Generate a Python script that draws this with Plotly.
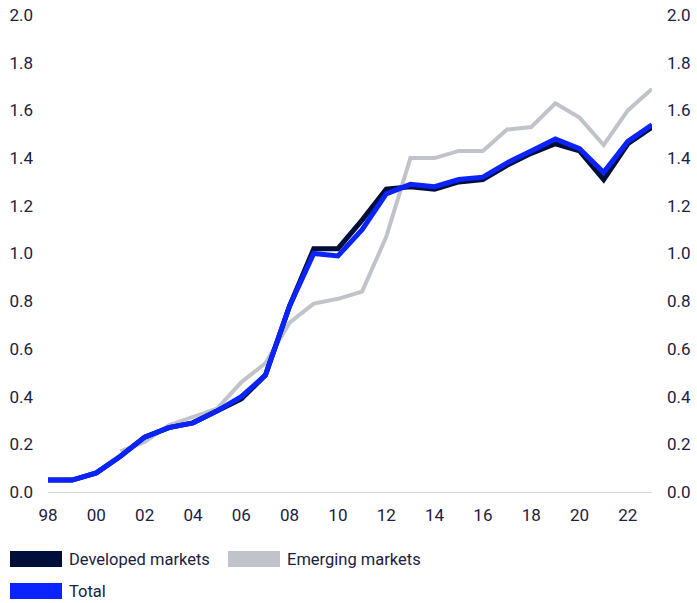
import plotly.graph_objects as go

years = list(range(1998, 2024))
developed = [0.05, 0.05, 0.08, 0.15, 0.23, 0.27, 0.29, 0.34, 0.39, 0.49, 0.78, 1.02, 1.02, 1.14, 1.27,
             1.28, 1.27, 1.30, 1.31, 1.37, 1.42, 1.46, 1.43, 1.31, 1.46, 1.53]
emerging_years = list(range(2001, 2024))
emerging = [0.17, 0.21, 0.28, 0.315, 0.35, 0.46, 0.54, 0.71, 0.79, 0.81, 0.84, 1.07,
            1.40, 1.40, 1.43, 1.43, 1.52, 1.53, 1.63, 1.57, 1.455, 1.60, 1.69]
total = [0.05, 0.05, 0.08, 0.15, 0.23, 0.27, 0.29, 0.34, 0.40, 0.49, 0.78, 1.00, 0.99, 1.10, 1.25,
         1.29, 1.28, 1.31, 1.32, 1.38, 1.43, 1.48, 1.44, 1.34, 1.47, 1.54]
x_tickvals = list(range(1998, 2023, 2))
x_ticktext = ["98", "00", "02", "04", "06", "08", "10", "12", "14", "16", "18", "20", "22"]
y_tickvals = [0.0, 0.2, 0.4, 0.6, 0.8, 1.0, 1.2, 1.4, 1.6, 1.8, 2.0]
y_ticktext = [f"{v:.1f}" for v in y_tickvals]
legend_labels = ["Developed markets", "Emerging markets", "Total"]

C_DEV = "#000F3A"
C_EM = "#C0C4CA"
C_TOT = "#0A23FF"
TXT = "#1B2141"
FONT = "Roboto"

W, H = 697, 603
L, R, T, B = 48, 45, 15, 111
pw, ph = W - L - R, H - T - B

def px(x):
    return (x - L) / pw

def py(y):
    return (H - B - y) / ph

fig = go.Figure()
fig.add_trace(go.Scatter(x=emerging_years, y=emerging, mode="lines",
                         line=dict(color=C_EM, width=4), showlegend=False, hoverinfo="skip"))
fig.add_trace(go.Scatter(x=years, y=developed, mode="lines",
                         line=dict(color=C_DEV, width=5), showlegend=False))
fig.add_trace(go.Scatter(x=years, y=total, mode="lines",
                         line=dict(color=C_TOT, width=5), showlegend=False))
# invisible trace for the right axis
fig.add_trace(go.Scatter(x=[years[0]], y=[None], yaxis="y2", showlegend=False, hoverinfo="skip"))

# legend built from shapes + annotations
legend_items = [(legend_labels[0], C_DEV, 10, 551), (legend_labels[1], C_EM, 228, 551),
                (legend_labels[2], C_TOT, 10, 583)]
shapes = []
annotations = []
for label, col, x0, y0 in legend_items:
    shapes.append(dict(type="rect", xref="paper", yref="paper", x0=px(x0), x1=px(x0 + 52),
                       y0=py(y0), y1=py(y0 + 16), fillcolor=col, line=dict(width=0)))
    annotations.append(dict(xref="paper", yref="paper", x=px(x0 + 57), y=py(y0 + 8),
                            text=label, showarrow=False, xanchor="left", yanchor="middle",
                            font=dict(family=FONT, size=16.5, color=TXT)))

fig.update_layout(
    width=W, height=H,
    margin=dict(l=L, r=R, t=T, b=B, autoexpand=False),
    paper_bgcolor="white", plot_bgcolor="white",
    font=dict(family=FONT, size=17, color=TXT),
    xaxis=dict(range=[1998, 2023], tickvals=x_tickvals, ticktext=x_ticktext,
               showgrid=False, zeroline=False, showline=True, linecolor="#D3D6DB", linewidth=1,
               ticks="", ticklabelstandoff=8, automargin=False),
    yaxis=dict(range=[0, 2.0], tickvals=y_tickvals, ticktext=y_ticktext, showgrid=False,
               zeroline=False, showline=False, ticks="", ticklabelstandoff=14, automargin=False),
    yaxis2=dict(range=[0, 2.0], tickvals=y_tickvals, ticktext=y_ticktext, overlaying="y",
                side="right", showgrid=False, zeroline=False, showline=False, ticks="",
                ticklabelstandoff=14, automargin=False),
    shapes=shapes, annotations=annotations,
)

fig.write_html("out.html")
